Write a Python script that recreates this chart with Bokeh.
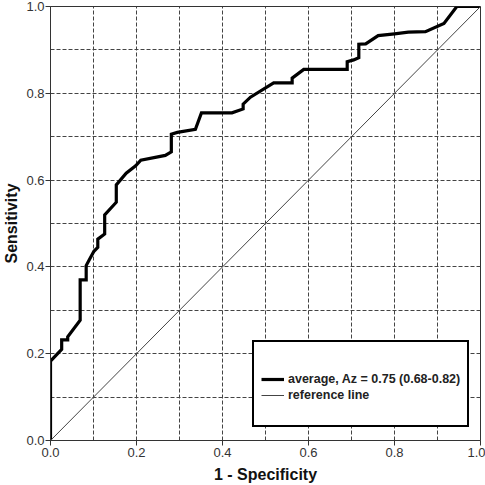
from bokeh.plotting import figure
from bokeh.models import Range1d, FixedTicker, PrintfTickFormatter, Legend, LegendItem
from bokeh.embed import file_html
from bokeh.resources import INLINE

# ROC curve (1 - specificity, sensitivity)
fpr = [0.0, 0.0, 0.026, 0.026, 0.040, 0.040, 0.069, 0.069, 0.083, 0.083,
       0.089, 0.101, 0.110, 0.110, 0.126, 0.126, 0.153, 0.153, 0.176, 0.198,
       0.210, 0.267, 0.281, 0.281, 0.295, 0.337, 0.351, 0.422, 0.448, 0.448,
       0.465, 0.519, 0.562, 0.562, 0.589, 0.690, 0.690, 0.705, 0.717, 0.717,
       0.733, 0.762, 0.800, 0.832, 0.872, 0.915, 0.945, 1.0]
tpr = [0.0, 0.183, 0.210, 0.232, 0.232, 0.239, 0.277, 0.370, 0.370, 0.403,
       0.414, 0.436, 0.445, 0.464, 0.476, 0.520, 0.549, 0.589, 0.616, 0.633,
       0.646, 0.657, 0.665, 0.706, 0.710, 0.717, 0.755, 0.755, 0.764, 0.775,
       0.791, 0.824, 0.824, 0.835, 0.855, 0.855, 0.873, 0.877, 0.882, 0.913,
       0.914, 0.933, 0.937, 0.941, 0.942, 0.961, 1.0, 1.0]

ref_x = [0.0, 1.0]
ref_y = [0.0, 1.0]

major_ticks = [0.0, 0.2, 0.4, 0.6, 0.8, 1.0]
grid_ticks = [0.1, 0.2, 0.3, 0.4, 0.5, 0.6, 0.7, 0.8, 0.9]

curve_label = "average, Az = 0.75 (0.68-0.82)"
ref_label = "reference line"
x_title = "1 - Specificity"
y_title = "Sensitivity"

FONT = "Liberation Sans"

p = figure(width=485, height=485, x_range=Range1d(0, 1), y_range=Range1d(0, 1),
           output_backend="svg", toolbar_location=None,
           min_border_top=6, min_border_right=5, min_border_left=0, min_border_bottom=0)
p.background_fill_color = "white"
p.border_fill_color = "white"
p.outline_line_color = "#333333"
p.outline_line_width = 1

for ax in (p.xaxis[0], p.yaxis[0]):
    ax.ticker = FixedTicker(ticks=major_ticks)
    ax.formatter = PrintfTickFormatter(format="%.1f")
    ax.minor_tick_line_color = None
    ax.major_tick_in = 0
    ax.major_tick_out = 5
    ax.major_tick_line_color = "#333333"
    ax.axis_line_color = "#333333"
    ax.major_label_text_font = FONT
    ax.major_label_text_font_size = "13px"
    ax.major_label_text_color = "#333333"
    ax.axis_label_text_font = FONT
    ax.axis_label_text_font_style = "bold"
    ax.axis_label_text_font_size = "16px"
    ax.axis_label_text_color = "#111111"

p.xaxis[0].axis_label = x_title
p.yaxis[0].axis_label = y_title
p.xaxis[0].major_label_standoff = 2
p.yaxis[0].major_label_standoff = 1
p.xaxis[0].axis_label_standoff = 6
p.yaxis[0].axis_label_standoff = 3

for g in (p.xgrid[0], p.ygrid[0]):
    g.ticker = FixedTicker(ticks=grid_ticks)
    g.grid_line_color = "#444444"
    g.grid_line_dash = "4 2"
    g.grid_line_width = 1

r_curve = p.line(fpr, tpr, line_color="black", line_width=3.2, line_join="miter")
r_ref = p.line(ref_x, ref_y, line_color="#444444", line_width=1)
# invisible renderer used only to leave an empty row at the bottom of the legend box
r_blank = p.line(ref_x, ref_y, line_alpha=0)

legend = Legend(items=[LegendItem(label=curve_label, renderers=[r_curve]),
                       LegendItem(label=ref_label, renderers=[r_ref]),
                       LegendItem(label=" ", renderers=[r_blank])],
                location=(202, 13))
legend.title = " "
legend.title_text_font_size = "14px"
legend.title_standoff = 7
legend.border_line_color = "black"
legend.border_line_alpha = 1
legend.border_line_width = 2.5
legend.background_fill_color = "white"
legend.background_fill_alpha = 1
legend.padding = 7
legend.spacing = 2
legend.label_height = 14
legend.glyph_height = 14
legend.glyph_width = 23
legend.label_standoff = 4
legend.label_text_font = FONT
legend.label_text_font_style = "bold"
legend.label_text_font_size = "12.5px"
legend.label_text_color = "#222222"
legend.margin = 0
p.add_layout(legend, "center")

open("out.html", "w").write(file_html(p, INLINE))
